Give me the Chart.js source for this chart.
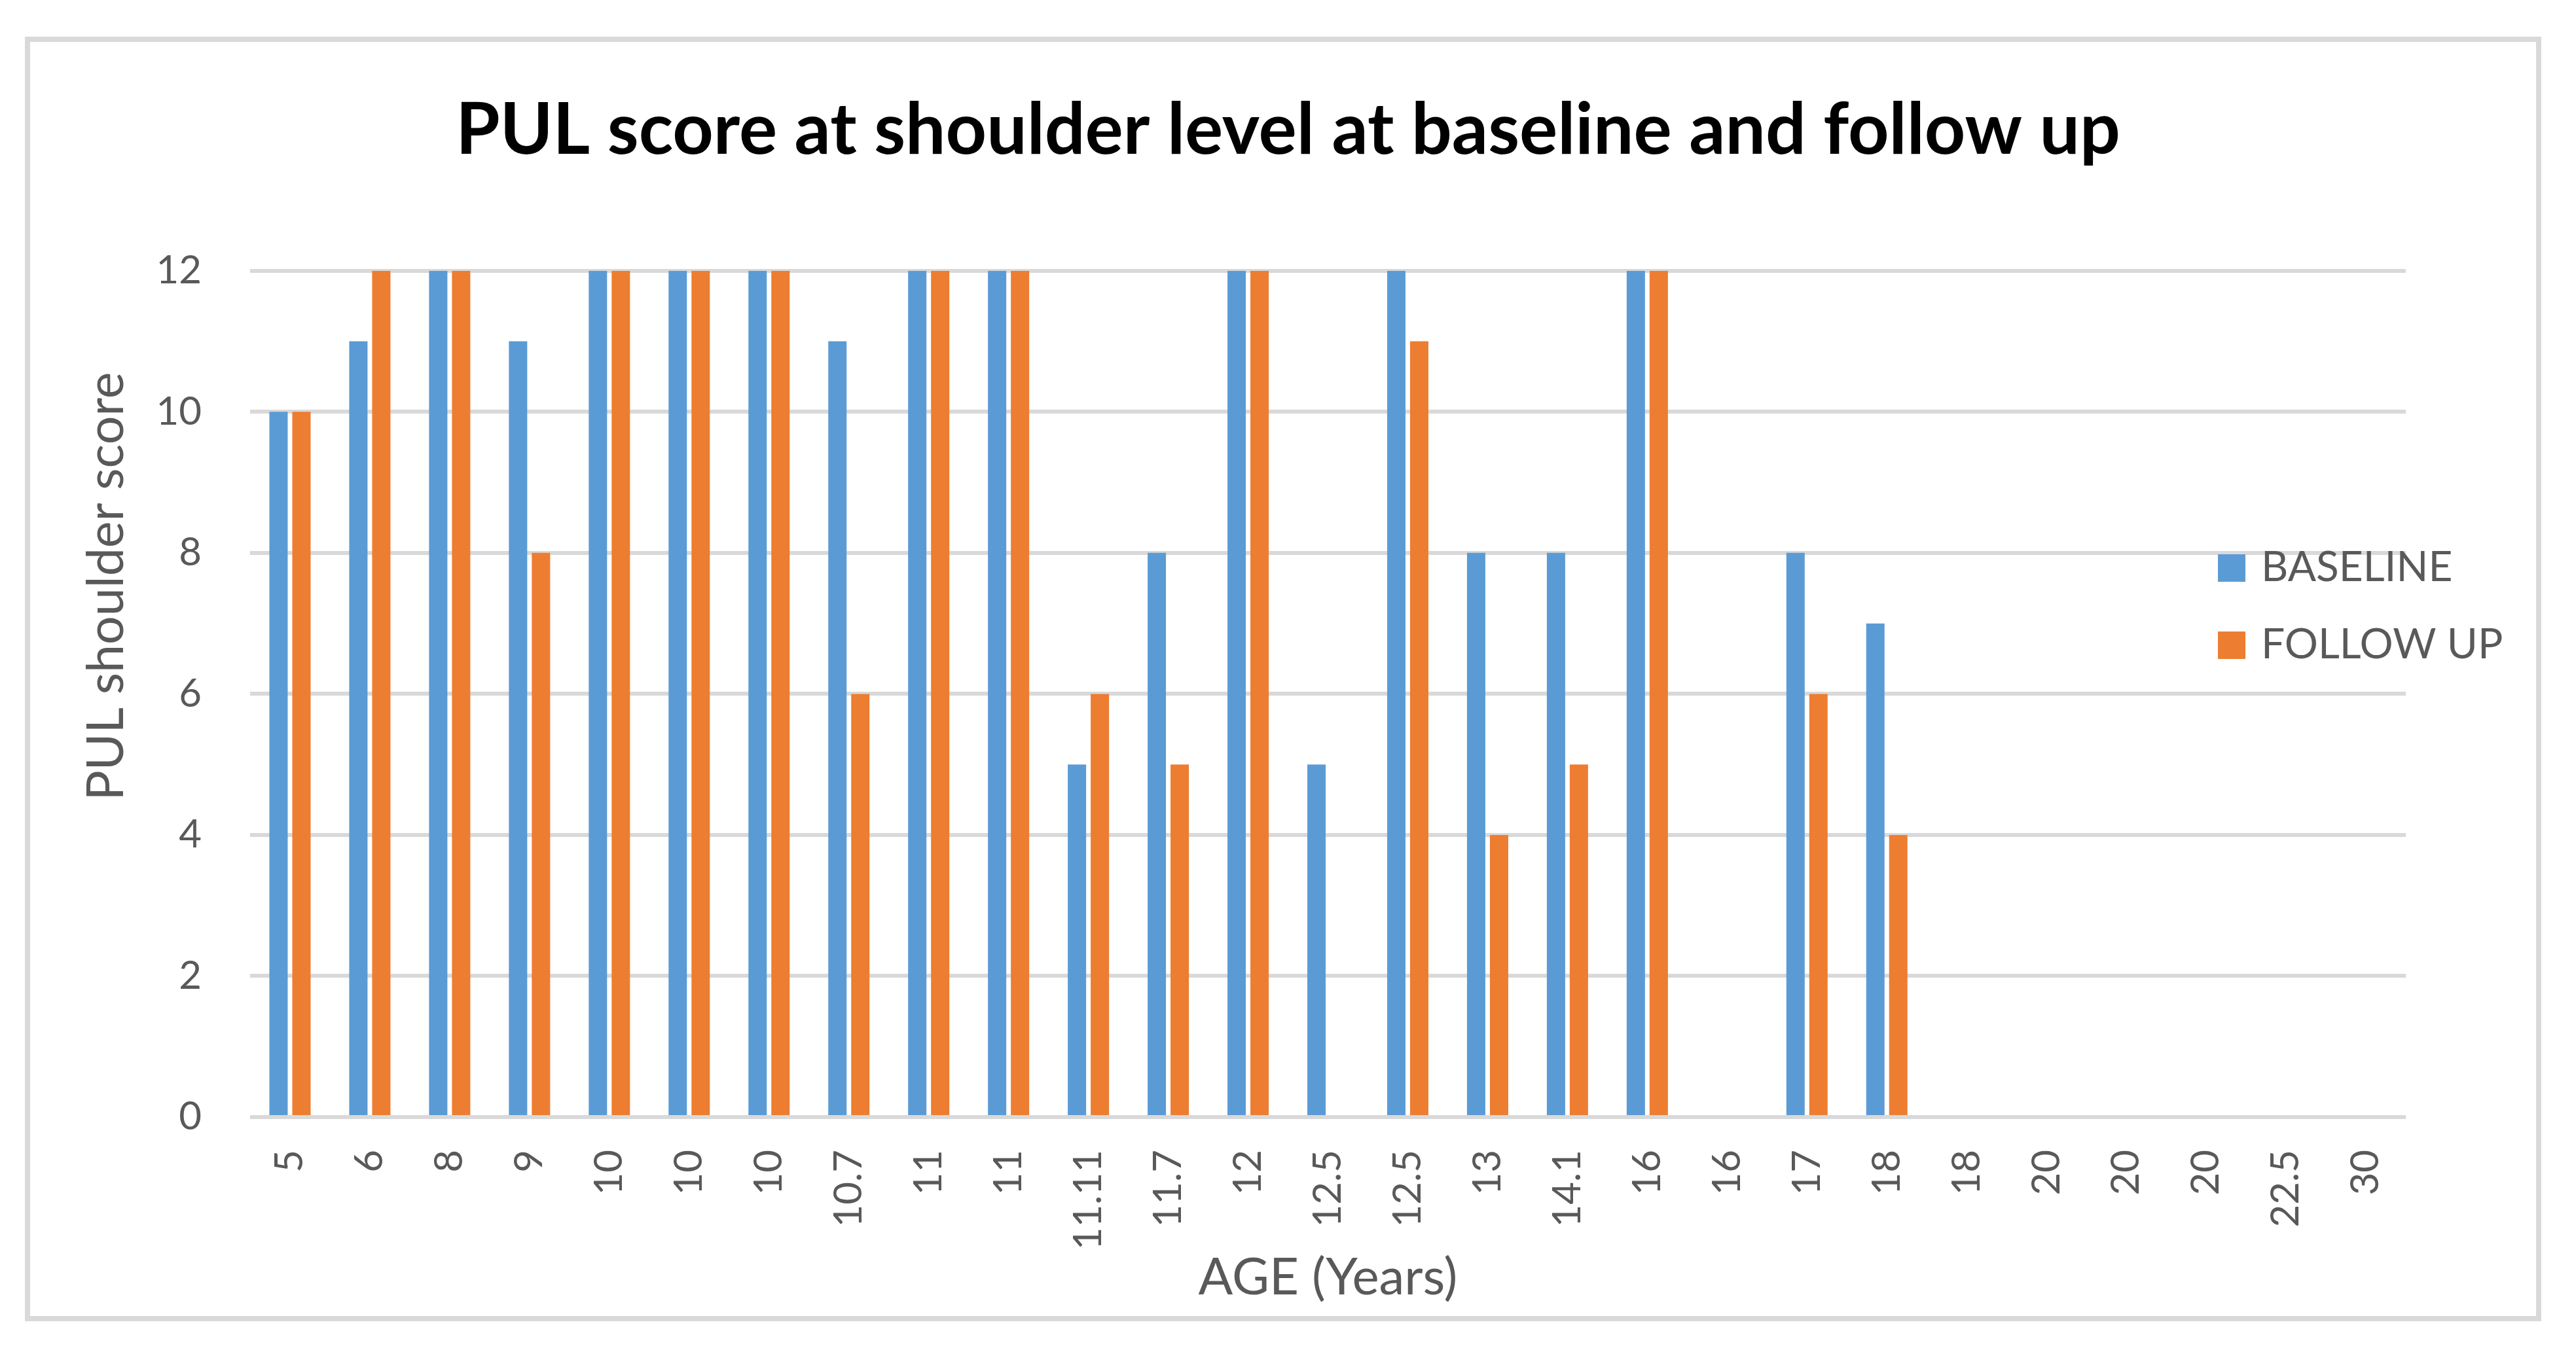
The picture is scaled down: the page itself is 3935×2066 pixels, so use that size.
<!DOCTYPE html>
<html>
<head>
<meta charset="utf-8">
<script src="https://cdn.jsdelivr.net/npm/chart.js@4.4.1/dist/chart.umd.min.js"></script>
<style>
    body { margin: 0; background: #ffffff; }
    #frame {
        position: absolute; left: 38px; top: 56px;
        width: 3844px; height: 1963px;
        box-sizing: border-box; border: 8px solid #d9d9d9;
    }
    #pulChart { position: absolute; left: 0; top: 0; }
</style>
</head>
<body>
<div id="frame"></div>
<canvas id="pulChart" width="3935" height="2066"></canvas>
<script>
// ages (x categories)
const ageLabels = ['5', '6', '8', '9', '10', '10', '10', '10.7', '11', '11', '11.11', '11.7', '12', '12.5', '12.5',
    '13', '14.1', '16', '16', '17', '18', '18', '20', '20', '20', '22.5', '30'];

// PUL shoulder scores
const baselineScores = [10, 11, 12, 11, 12, 12, 12, 11, 12, 12, 5, 8, 12, 5, 12,
    8, 8, 12, null, 8, 7, null, null, null, null, null, null];
const followUpScores = [10, 12, 12, 8, 12, 12, 12, 6, 12, 12, 6, 5, 12, null, 11,
    4, 5, 12, null, 6, 4, null, null, null, null, null, null];

const yTicks = [0, 2, 4, 6, 8, 10, 12];

const textGrey = '#595959';
const gridGrey = '#d9d9d9';
const fontName = 'Lato';

// y axis title + legend sit on fixed spots in the original, so draw them here
const extrasPlugin = {
    id: 'extras',
    afterDraw(chart) {
        const ctx = chart.ctx;
        ctx.save();
        // y axis title
        ctx.fillStyle = textGrey;
        ctx.font = '77px ' + fontName;
        ctx.textAlign = 'center';
        ctx.textBaseline = 'middle';
        ctx.translate(163, 896);
        ctx.rotate(-Math.PI / 2);
        ctx.fillText('PUL shoulder score', 0, 0);
        ctx.restore();

        // legend (overlaps the plot area like the original)
        ctx.save();
        ctx.font = '64px ' + fontName;
        ctx.textAlign = 'left';
        ctx.textBaseline = 'alphabetic';
        chart.data.datasets.forEach((ds, i) => {
            const top = 847 + i * 118;
            ctx.fillStyle = ds.backgroundColor;
            ctx.fillRect(3388, top, 42, 42);
            ctx.fillStyle = textGrey;
            ctx.fillText(ds.label, 3454, top + 41);
        });
        ctx.restore();
    }
};

const ctx = document.getElementById('pulChart').getContext('2d');
new Chart(ctx, {
    type: 'bar',
    data: {
        labels: ageLabels,
        datasets: [
            { label: 'BASELINE', data: baselineScores, backgroundColor: '#5b9bd5' },
            { label: 'FOLLOW UP', data: followUpScores, backgroundColor: '#ed7d31' }
        ]
    },
    options: {
        responsive: false,
        animation: false,
        devicePixelRatio: 1,
        categoryPercentage: 0.574,
        barPercentage: 0.8,
        layout: { padding: 0 },
        plugins: {
            legend: { display: false },
            tooltip: { enabled: false },
            title: {
                display: true,
                text: 'PUL score at shoulder level at baseline and follow up',
                color: '#000000',
                font: { family: fontName, size: 109, weight: 'bold', lineHeight: 1.2 },
                padding: { top: 134, bottom: 149 }
            }
        },
        scales: {
            x: {
                grid: { display: false, drawTicks: false },
                border: { display: false },
                ticks: {
                    color: textGrey,
                    font: { family: fontName, size: 60 },
                    minRotation: 90,
                    maxRotation: 90,
                    autoSkip: false,
                    padding: 50
                },
                title: {
                    display: true,
                    text: 'AGE (Years)',
                    color: textGrey,
                    font: { family: fontName, size: 78, lineHeight: 1.2 },
                    padding: { top: 0, bottom: 66 }
                },
                afterFit: (scale) => { scale.height = 2066 - 1707; }
            },
            y: {
                min: 0,
                max: 12,
                grid: { color: gridGrey, lineWidth: 6, drawTicks: false },
                border: { display: false },
                afterBuildTicks: (scale) => { scale.ticks = yTicks.map(v => ({ value: v })); },
                ticks: {
                    color: textGrey,
                    font: { family: fontName, size: 60 },
                    padding: 74
                },
                afterFit: (scale) => { scale.width = 382; }
            },
            // empty right-hand space where the legend lives
            spacer: {
                position: 'right',
                grid: { display: false, drawTicks: false },
                border: { display: false },
                ticks: { display: false },
                afterFit: (scale) => { scale.width = 3935 - 3675; }
            }
        }
    },
    plugins: [extrasPlugin]
});
</script>
</body>
</html>
